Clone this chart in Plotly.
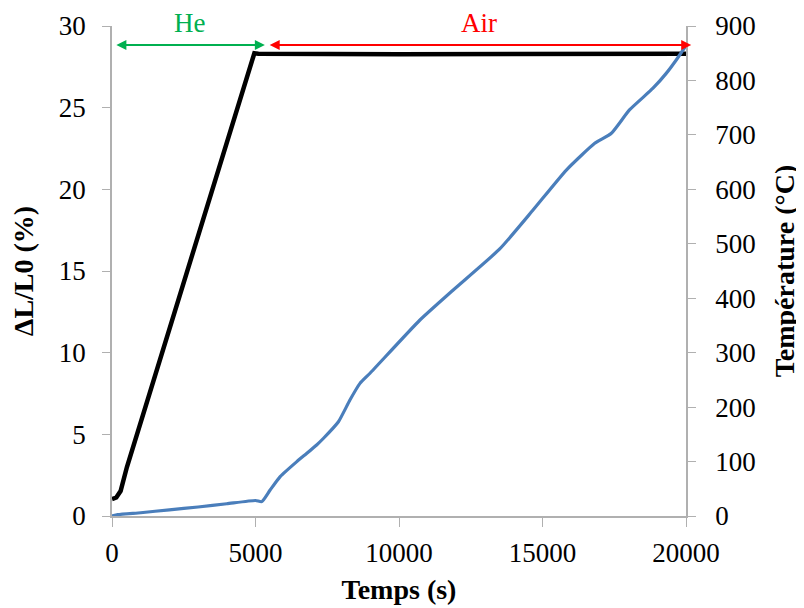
import plotly.graph_objects as go

# temperature programme (black, right axis)
t_temp = [0, 150, 300, 520, 4960, 5100, 10000, 15000, 20000]
temp_c = [31, 34, 46, 90, 850, 849, 848, 849, 849]

# shrinkage curve (blue, left axis)
t_dl = [0, 200, 1000, 2000, 3000, 4000, 5000, 5220, 5510, 5860, 6440, 6790, 7130,
        7370, 7890, 8290, 8640, 8990, 10730, 11890, 13510, 14670, 15830, 16820,
        17400, 18030, 18850, 19310, 19660, 19990]
dl_pct = [0, 0.08, 0.2, 0.38, 0.55, 0.75, 0.95, 0.88, 1.59, 2.41, 3.33, 3.84, 4.35,
          4.76, 5.77, 7.1, 8.12, 8.74, 12.0, 13.84, 16.35, 18.73, 21.18, 22.82,
          23.43, 24.86, 26.19, 27.1, 27.92, 28.78]

x_ticks = [0, 5000, 10000, 15000, 20000]

font = "Liberation Serif"
axis_grey = "#B0B0B0"

fig = go.Figure()
fig.add_trace(go.Scatter(x=t_temp, y=temp_c, mode="lines", yaxis="y",
                         line=dict(color="black", width=4.5), showlegend=False))
fig.add_trace(go.Scatter(x=t_dl, y=dl_pct, mode="lines", yaxis="y2",
                         line=dict(color="#4A7EBB", width=3.2, shape="spline", smoothing=0.5),
                         showlegend=False))

# He / Air arrows (paper coords, pixel tails)
fig.add_annotation(xref="paper", yref="paper", x=0.2663, y=0.961, ax=-150, ay=0,
                   axref="pixel", ayref="pixel", text="", showarrow=True,
                   arrowside="end+start", arrowhead=2, startarrowhead=2,
                   arrowsize=1, startarrowsize=1, arrowwidth=2, arrowcolor="#00B050")
fig.add_annotation(xref="paper", yref="paper", x=1.009, y=0.961, ax=-423, ay=0,
                   axref="pixel", ayref="pixel", text="", showarrow=True,
                   arrowside="end+start", arrowhead=2, startarrowhead=2,
                   arrowsize=1, startarrowsize=1, arrowwidth=2, arrowcolor="#FF0000")
fig.add_annotation(xref="paper", yref="paper", x=(190 - 112) / 574.5, y=(516 - 23) / 490,
                   xanchor="center", yanchor="middle", text="He", showarrow=False,
                   font=dict(family=font, size=27, color="#00B050"))
fig.add_annotation(xref="paper", yref="paper", x=(479 - 112) / 574.5, y=(516 - 23) / 490,
                   xanchor="center", yanchor="middle", text="Air", showarrow=False,
                   font=dict(family=font, size=27, color="#FF0000"))

tick_font = dict(family=font, size=27, color="black")
title_font = dict(family=font, size=28, color="black")

# page body has an 8px margin, so margins are shifted by 8px
fig.update_layout(
    width=804, height=608,
    margin=dict(l=104, r=125.5, t=18, b=100),
    plot_bgcolor="white", paper_bgcolor="white",
    xaxis=dict(range=[0, 20000], tickvals=x_ticks, tickformat="d", showgrid=False,
               zeroline=False, automargin=False,
               showline=True, linecolor=axis_grey, linewidth=1.5,
               ticks="outside", ticklen=9, tickcolor=axis_grey, tickfont=tick_font,
               ticklabelstandoff=3,
               title=dict(text="<b>Temps (s)</b>", font=title_font, standoff=12)),
    yaxis=dict(range=[0, 900], dtick=100, side="right", showgrid=False, zeroline=False,
               automargin=False,
               showline=True, linecolor=axis_grey, linewidth=1.5,
               ticks="outside", ticklen=8, tickcolor=axis_grey, tickfont=tick_font,
               ticklabelstandoff=14,
               title=dict(text="<b>Température (°C)</b>", font=title_font, standoff=20)),
    yaxis2=dict(range=[0, 30], dtick=5, side="left", overlaying="y", showgrid=False,
                zeroline=False, automargin=False, showline=True, linecolor=axis_grey,
                linewidth=1.5,
                ticks="outside", ticklen=8, tickcolor=axis_grey, tickfont=tick_font,
                ticklabelstandoff=11,
                title=dict(text="<b>ΔL/L0 (%)</b>", font=title_font, standoff=25)),
)

fig.write_html("out.html")
